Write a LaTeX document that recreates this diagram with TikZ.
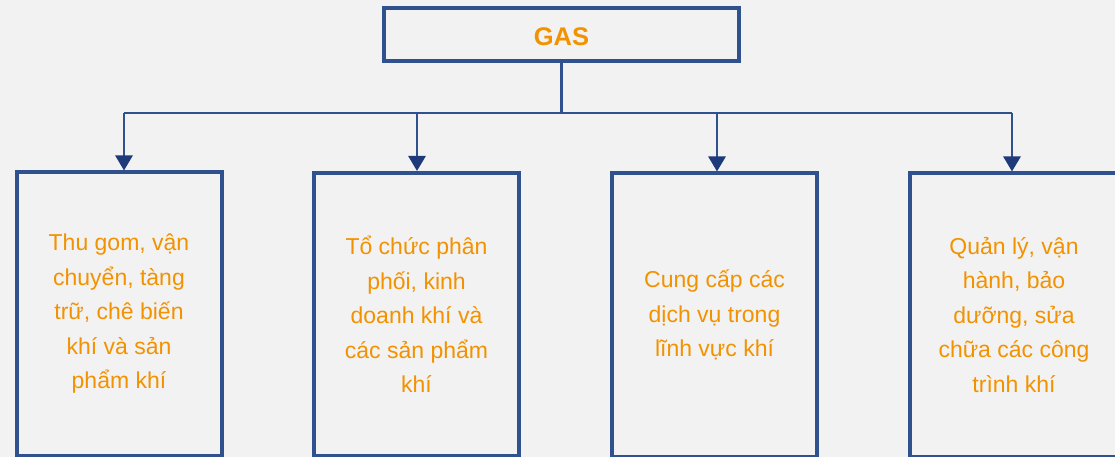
\documentclass[tikz,border=0pt]{standalone}
\usepackage{fontspec}
\setmainfont{Liberation Sans}
\usetikzlibrary{arrows.meta}
\definecolor{frameBlue}{RGB}{47,82,143}
\definecolor{tipBlue}{RGB}{31,58,122}
\definecolor{gasOrange}{RGB}{243,146,0}
\definecolor{paperGrey}{RGB}{242,242,242}

\begin{document}
\begin{tikzpicture}[x=1pt, y=-1pt,
    box/.style={draw=frameBlue, line width=4pt, text=gasOrange, align=center,
        inner sep=0pt, minimum width=205pt, minimum height=283pt,
        font=\fontsize{23}{34.5}\selectfont},
    link/.style={draw=frameBlue, line width=2.75pt},
    drop/.style={link, -{Triangle[width=17pt, length=15pt, color=tipBlue]}}]

            \useasboundingbox (0,0) rectangle (1115,457);
            \fill[paperGrey] (0,0) rectangle (1115,457);
            \clip (0,0) rectangle (1115,457);

            % top box
            \node[box, minimum width=355pt, minimum height=53pt, text height=22pt, text depth=0pt,
                font=\fontsize{25.5}{30}\selectfont\bfseries] (gas) at (561.5,34.5) {GAS};

            % lower boxes
            \node[box] (b1) at (119,314) {Thu gom, vận\\chuyển, tàng\\trữ, chê biến\\khí và sản\\phẩm khí};
            \node[box] (b2) at (416.5,314.5) {Tổ chức phân\\phối, kinh\\doanh khí và\\các sản phẩm\\khí};
            \node[box] (b3) at (714.5,315) {Cung cấp các\\dịch vụ trong\\lĩnh vực khí};
            \node[box, minimum width=209pt] (b4) at (1014,315) {Quản lý, vận\\hành, bảo\\dưỡng, sửa\\chữa các công\\trình khí};

            % connectors
            \coordinate (bus) at (561.5,113);
            \coordinate (d1) at (124,113);
            \coordinate (d2) at (417,113);
            \coordinate (d3) at (717,113);
            \coordinate (d4) at (1012,113);
            \draw[link] (gas.south) -- (bus);
            \draw[link] (d1) -- (d4);
            \draw[drop] (d1) -- (d1 |- b1.north);
            \draw[drop] (d2) -- (d2 |- b2.north);
            \draw[drop] (d3) -- (d3 |- b3.north);
            \draw[drop] (d4) -- (d4 |- b4.north);

\end{tikzpicture}
\end{document}
